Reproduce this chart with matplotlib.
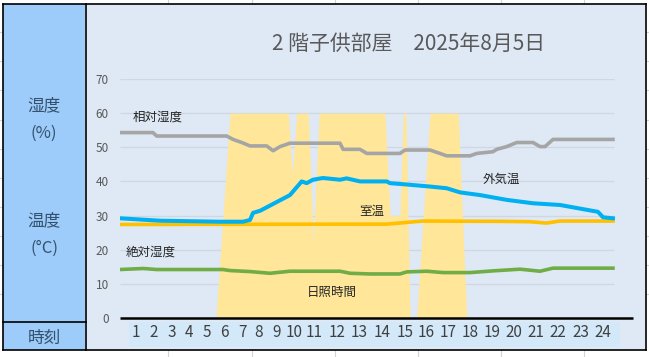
import matplotlib
matplotlib.use("Agg")
import matplotlib.pyplot as plt
from matplotlib.patches import Rectangle
from matplotlib.lines import Line2D

plt.rcParams['font.family'] = ['Noto Sans CJK JP', 'DejaVu Sans']

# ---------------- data ----------------
title = "2 階子供部屋　2025年8月5日"
hour_labels = [str(h) for h in range(1, 25)]
hour_label_pos = [0.77, 1.64, 2.51, 3.33, 4.20, 5.07, 5.94, 6.72, 7.59, 8.46,
                  9.42, 10.55, 11.63, 12.72, 13.82, 14.86, 15.94, 16.99, 18.07,
                  19.13, 20.20, 21.25, 22.38, 23.42]
y_ticks = [0, 10, 20, 30, 40, 50, 60, 70]

# relative humidity (%)
rh_t = [0, 1.6, 1.78, 5.18, 5.49, 5.91, 6.31, 7.12, 7.43, 7.77, 8.25, 10.68,
        10.83, 11.65, 11.98, 13.59, 13.83, 15.05, 15.53, 15.86, 16.99, 17.32,
        18.1, 18.29, 18.77, 19.26, 20.05, 20.39, 20.63, 21.02, 23.93]
rh_v = [54.3, 54.3, 53.3, 53.3, 52.3, 51.4, 50.4, 50.4, 49.0, 50.2, 51.2, 51.2,
        49.4, 49.4, 48.2, 48.2, 49.2, 49.2, 48.2, 47.5, 47.5, 48.2,
        48.7, 49.4, 50.2, 51.4, 51.4, 50.2, 50.2, 52.3, 52.3]

# outside temperature (°C)
out_t = [0, 1.94, 4.85, 5.97, 6.31, 6.46, 6.8, 8.25, 8.82, 9.06, 9.37, 9.85,
         10.68, 11.0, 11.65, 12.95, 13.1, 13.92, 15.05, 15.86, 16.5, 17.48,
         18.77, 20.05, 21.36, 23.2, 23.45, 23.93]
out_v = [29.2, 28.5, 28.2, 28.2, 28.7, 30.8, 31.4, 36.0, 40.0, 39.5, 40.5, 41.0,
         40.5, 40.9, 40.0, 40.0, 39.5, 39.1, 38.5, 38.0, 36.8, 36.0,
         34.6, 33.6, 33.1, 31.1, 29.5, 29.2]

# room temperature (°C)
room_t = [0, 12.95, 13.74, 14.7, 18.6, 19.9, 20.7, 21.36, 23.93]
room_v = [27.4, 27.5, 27.9, 28.4, 28.3, 28.2, 27.8, 28.4, 28.4]

# absolute humidity
ah_t = [0, 1.13, 1.78, 5.0, 5.34, 6.31, 7.28, 8.25, 10.68, 11.17, 12.14, 13.59,
        13.92, 14.89, 15.68, 16.99, 18.1, 19.42, 20.39, 21.02, 23.93]
ah_v = [14.2, 14.5, 14.2, 14.2, 13.9, 13.6, 13.1, 13.7, 13.7, 13.1, 12.9, 12.9,
        13.5, 13.7, 13.3, 13.3, 13.8, 14.3, 13.7, 14.6, 14.6]

# sunshine (scaled to 60 = full)
sun_t = [0, 4.66, 5.34, 8.17, 8.36, 8.58, 9.14, 9.38, 9.67, 12.86, 13.11, 13.59,
         13.75, 13.88, 14.08, 14.40, 15.05, 16.42, 16.83, 24]
sun_v = [0, 0, 60, 60, 41.9, 60, 60, 22.5, 60, 60, 30, 30,
         60, 60, 0, 0, 60, 60, 0, 0]

# ---------------- figure ----------------
W, H = 649, 357
fig = plt.figure(figsize=(W / 100, H / 100), dpi=100)
fig.patch.set_facecolor("white")


def fx(x):
    return x / W


def fy(y):
    return 1 - y / H


def rect(x0, y0, x1, y1, color, z=0):
    fig.add_artist(Rectangle((fx(x0), fy(y1)), fx(x1) - fx(x0), fy(y0) - fy(y1),
                             transform=fig.transFigure, facecolor=color,
                             edgecolor="none", zorder=z))


def line(x0, y0, x1, y1, color="black", lw=1.2, z=5):
    fig.add_artist(Line2D([fx(x0), fx(x1)], [fy(y0), fy(y1)],
                          transform=fig.transFigure, color=color, lw=lw, zorder=z))


# spreadsheet grid remnants
for gx in [168, 252, 335, 418, 501, 584]:
    line(gx, 0, gx, 4, color="#D4D4D4", lw=0.8, z=0)
    line(gx, 350, gx, 357, color="#D4D4D4", lw=0.8, z=0)
for gy in [32, 61, 90, 120, 149, 178, 207, 236, 265, 294]:
    line(0, gy, 3, gy, color="#D4D4D4", lw=0.8, z=0)
    line(646, gy, 649, gy, color="#D4D4D4", lw=0.8, z=0)

# chart area and left panel
rect(86, 4, 645, 350, "#DEE9F5", z=0)
rect(3, 4, 85, 350, "#9DCBFA", z=0)
rect(129, 322, 620, 347, "#D3E9FA", z=0)

# borders
line(3, 4, 646, 4)
line(3, 350, 646, 350)
line(3, 4, 3, 350)
line(85.5, 4, 85.5, 350)
line(645.5, 4, 645.5, 350)
line(3, 322, 86, 322)

# left panel texts
pc = "#34506C"
fig.text(fx(44), fy(106), "湿度", ha="center", va="center", fontsize=12, color=pc)
fig.text(fx(44), fy(133), "(%)", ha="center", va="center", fontsize=12, color=pc)
fig.text(fx(44), fy(221), "温度", ha="center", va="center", fontsize=12, color=pc)
fig.text(fx(44), fy(248), "(°C)", ha="center", va="center", fontsize=12, color=pc)
fig.text(fx(44), fy(338), "時刻", ha="center", va="center", fontsize=12, color=pc)

# title
fig.text(fx(409), fy(44), title, ha="center", va="center", fontsize=15, color="#595959")

# main axes: x 0..25 -> px 120..635 ; y 0..70 -> px 318..79
ax = fig.add_axes([fx(120), fy(318), fx(635) - fx(120), fy(79) - fy(318)])
ax.set_xlim(0, 25)
ax.set_ylim(0, 70)
ax.patch.set_visible(False)
for s in ax.spines.values():
    s.set_visible(False)

ax.hlines(y_ticks[1:], 0, 24, color="#D0D7E0", lw=0.9, zorder=1)

ax.fill_between(sun_t, 0, sun_v, color="#FFE699", lw=0, zorder=2)
ax.plot(rh_t, rh_v, color="#A5A5A5", lw=2.6, zorder=3, solid_joinstyle="round")
ax.plot(ah_t, ah_v, color="#70AD47", lw=2.6, zorder=3, solid_joinstyle="round")
ax.plot(room_t, room_v, color="#FFC000", lw=2.6, zorder=3, solid_joinstyle="round")
ax.plot(out_t, out_v, color="#00B0F0", lw=2.9, zorder=4, solid_joinstyle="round")
ax.hlines(0, 0, 24.9, color="black", lw=1.8, zorder=5, clip_on=False)

ax.set_yticks(y_ticks)
ax.set_yticklabels([str(v) for v in y_ticks], fontsize=8.5, color="#595959")
ax.tick_params(axis="y", length=0, pad=8)
ax.set_xticks(hour_label_pos)
ax.set_xticklabels(hour_labels, fontsize=11, color="#404040")
ax.tick_params(axis="x", length=0, pad=4)

tc = "#262626"
ax.text(0.63, 58.9, "相対湿度", ha="left", va="center", fontsize=9, color=tc)
ax.text(0.29, 19.4, "絶対湿度", ha="left", va="center", fontsize=9, color=tc)
ax.text(12.2, 31.1, "室温", ha="center", va="center", fontsize=9, color=tc)
ax.text(18.5, 40.7, "外気温", ha="center", va="center", fontsize=9, color=tc)
ax.text(10.3, 7.4, "日照時間", ha="center", va="center", fontsize=9, color=tc)

fig.savefig("out.png", dpi=100)
